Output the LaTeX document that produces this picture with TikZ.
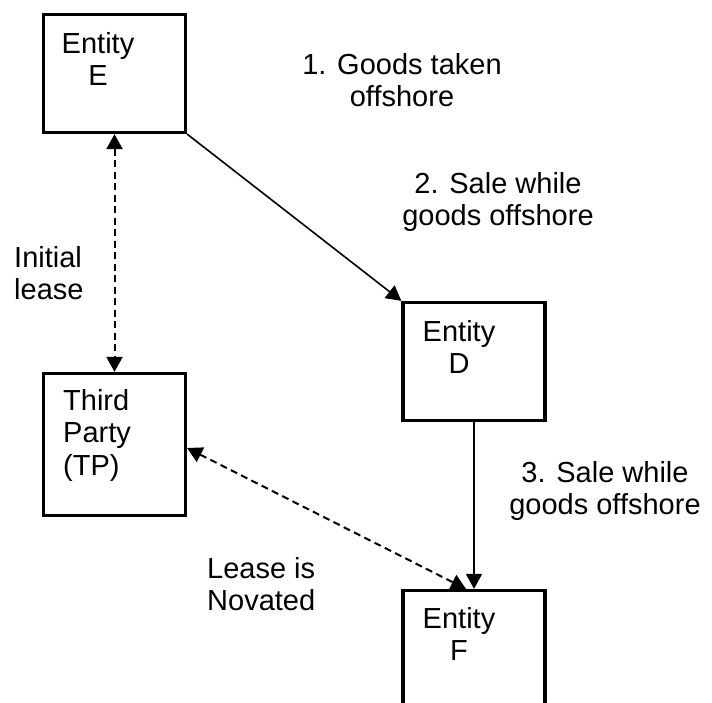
\documentclass[tikz,border=0pt]{standalone}
\usepackage{fontspec}
\setmainfont{Liberation Sans}
\usetikzlibrary{arrows.meta}
\begin{document}
\begin{tikzpicture}[x=1pt,y=-1pt,
  entbox/.style={draw=black, line width=3.2pt, minimum width=142pt, minimum height=118pt, inner sep=0pt},
  tall/.style={minimum height=142pt},
  txt/.style={inner sep=0pt, font=\fontsize{29}{32.5}\selectfont},
  conn/.style={line width=1.6pt, -{Triangle[length=15pt,width=16pt]}},
  dconn/.style={line width=2pt, dash pattern=on 7pt off 4.5pt, {Triangle[length=15pt,width=16pt]}-{Triangle[length=15pt,width=16pt]}}
]
\clip (0,0) rectangle (712,703);
\fill[white] (0,0) rectangle (712,703);

% boxes
\node[entbox] (E) at (114.5,73.5) {};
\node[entbox] (D) at (474,361.5) {};
\node[entbox,tall] (TP) at (114.5,444.5) {};
\node[entbox] (F) at (474,649.5) {};

% box texts
\node[txt, anchor=north, align=center] (Et) at (98,32) {Entity\\E};
\node[txt, anchor=north, align=center] (Dt) at (459,320) {Entity\\D};
\node[txt, anchor=north, align=center] (Ft) at (459,607) {Entity\\F};
\node[txt, anchor=north west, align=left] (TPt) at (63,389) {Third\\Party\\(TP)};

% labels
\node[txt, anchor=north, align=center] (l1) at (402,53) {1. Goods taken\\offshore};
\node[txt, anchor=north, align=center] (l2) at (498,172) {2. Sale while\\goods offshore};
\node[txt, anchor=north, align=center] (l3) at (605,461) {3. Sale while\\goods offshore};
\node[txt, anchor=north west, align=left] (l4) at (14,246) {Initial\\lease};
\node[txt, anchor=north west, align=left] (l5) at (207,557) {Lease is\\Novated};

% connectors
\draw[conn] (E.south east) -- (D.north west);
\draw[conn] (D.south) -- (F.north);
\draw[dconn] (E.south) -- (TP.north);
\draw[dconn] ([yshift=-3.5pt]TP.east) -- ([xshift=-8pt]F.north);
\end{tikzpicture}
\end{document}
